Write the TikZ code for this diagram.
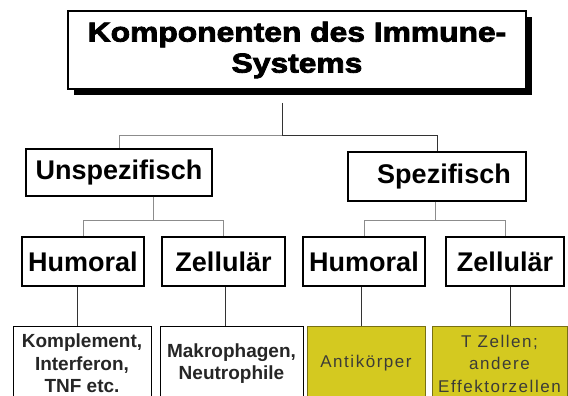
\documentclass[tikz,border=0pt]{standalone}
\usepackage{fontspec}
\setmainfont{Liberation Sans}
\newfontfamily\titlefont{Liberation Sans}[FakeStretch=1.16,FakeBold=3]
\newfontfamily\spacedfont{Liberation Sans}[LetterSpace=9]
\usetikzlibrary{calc}
\usetikzlibrary{shadows}

\definecolor{oliveyellow}{RGB}{212,201,32}
\definecolor{olivedark}{RGB}{120,112,20}
\definecolor{textgray}{RGB}{60,60,55}

\tikzset{
  titlebox/.style={draw, line width=1.2pt, fill=white, minimum width=458, minimum height=78,
    align=center, font=\titlefont\bfseries\fontsize{27.4}{31}\selectfont,
    drop shadow={shadow xshift=6pt, shadow yshift=-6pt, fill=black, opacity=1}},
  midbox/.style={draw, line width=1.2pt, fill=white, inner sep=0pt,
    font=\bfseries\fontsize{27}{31}\selectfont},
  leafbox/.style={draw, line width=1pt, fill=white, inner sep=0pt, minimum height=75,
    align=center, text=black!85, font=\bfseries\fontsize{19}{22.5}\selectfont},
  goldbox/.style={leafbox, fill=oliveyellow, draw=olivedark, text=textgray,
    font=\spacedfont\fontsize{17}{22.5}\selectfont},
  link/.style={draw=black!80, line width=1pt},
  linklight/.style={draw=black!45, line width=1pt}
}

\begin{document}
\begin{tikzpicture}[x=1pt, y=-1pt]
\useasboundingbox (0,0) rectangle (568,396);
\clip (0,0) rectangle (568,396);

% top
\node[titlebox] (title) at (297,50) {Komponenten des Immune-\\Systems};

% second row
\node[midbox, minimum width=186, minimum height=47] (unsp) at (119,172.5) {Unspezifisch};
\node[midbox, minimum width=178, minimum height=49] (spez) at (437,176.5) {\hspace{14pt}Spezifisch};

% third row
\foreach \nm/\x/\bw/\txt in {hum1/83/122/Humoral, zel1/223.5/123/Zellulär, hum2/364/122/Humoral, zel2/505/118/Zellulär}
  \node[midbox, minimum width=\bw, minimum height=49] (\nm) at (\x,261.5) {\txt};

% leaves
\node[leafbox, minimum width=138] (kompl) at (82,363.5) {Komplement,\\Interferon,\\TNF etc.};
\node[leafbox, minimum width=143] (makro) at (231.5,363.5) {Makrophagen,\\Neutrophile};
\node[goldbox, minimum width=118] (anti) at (366,363.5) {Antikörper};
\node[goldbox, minimum width=135] (tzell) at (499.5,363.5) {T Zellen;\\andere\\Effektorzellen};

% connectors
\coordinate (stem) at (282,103);
\coordinate (j0) at (282,135);
\coordinate (j1) at (153,220);
\coordinate (j2) at (435,220);
\draw[link] (stem) -- (j0);
\draw[linklight] (j0) -| (unsp.north);
\draw[link] (j0) -| (spez.north);
\draw[linklight] (j1 |- unsp.south) -- (j1);
\draw[linklight] (j1) -| (hum1.north);
\draw[linklight] (j1) -| (zel1.north);
\draw[linklight] (j2 |- spez.south) -- (j2);
\draw[linklight] (j2) -| (hum2.north);
\draw[linklight] (j2) -| (zel2.north);

\draw[link] ([xshift=-6pt]hum1.south) -- ([xshift=-6pt]hum1.south |- kompl.north);
\draw[link] ([xshift=1.5pt]zel1.south) -- ([xshift=1.5pt]zel1.south |- makro.north);
\draw[link] ([xshift=-3pt]hum2.south) -- ([xshift=-3pt]hum2.south |- anti.north);
\draw[link] ([xshift=5pt]zel2.south) -- ([xshift=5pt]zel2.south |- tzell.north);
\end{tikzpicture}
\end{document}
